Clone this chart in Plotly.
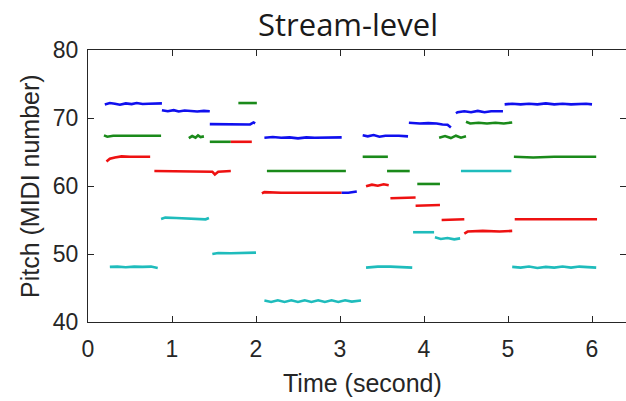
import plotly.graph_objects as go

# ---------------- data (time in s, pitch in MIDI number) ----------------
blue_t = [
    [0.20, 0.26, 0.32, 0.38, 0.45, 0.52, 0.58, 0.65, 0.72, 0.80, 0.88],
    [0.88, 0.95, 1.02, 1.08, 1.15, 1.22, 1.30, 1.38, 1.45],
    [1.45, 1.55, 1.65, 1.75, 1.85, 1.93, 1.97, 1.99],
    [2.10, 2.20, 2.30, 2.40, 2.50, 2.60, 2.70, 2.80, 2.90, 3.02],
    [3.02, 3.10, 3.20],
    [3.27, 3.33, 3.40, 3.47, 3.54, 3.62, 3.70, 3.81],
    [3.82, 3.95, 4.05, 4.15, 4.22, 4.28, 4.32],
    [4.38, 4.40, 4.48, 4.56, 4.64, 4.72, 4.80, 4.88, 4.94],
    [4.96, 5.05, 5.15, 5.25, 5.35, 5.45, 5.55, 5.65, 5.75, 5.85, 5.93, 6.00],
]
blue_p = [
    [72.0, 72.2, 72.1, 71.95, 72.15, 72.05, 72.2, 72.05, 72.1, 72.1, 72.15],
    [71.15, 71.0, 71.15, 70.95, 71.1, 71.0, 70.95, 71.05, 71.0],
    [69.1, 69.1, 69.05, 69.1, 69.1, 69.05, 69.35, 69.2],
    [67.1, 67.2, 67.1, 67.15, 67.0, 67.15, 67.1, 67.15, 67.1, 67.15],
    [59.0, 59.0, 59.2],
    [67.45, 67.3, 67.5, 67.25, 67.4, 67.45, 67.4, 67.3],
    [69.3, 69.2, 69.25, 69.2, 69.05, 69.0, 68.6],
    [70.7, 70.85, 71.0, 70.85, 71.05, 70.85, 71.0, 71.0, 71.0],
    [72.0, 72.1, 72.0, 72.1, 72.0, 72.15, 72.0, 72.1, 72.0, 72.1, 72.1, 72.0],
]

green_t = [
    [0.19, 0.23, 0.30, 0.45, 0.60, 0.75, 0.87],
    [1.20, 1.24, 1.28, 1.31, 1.34, 1.38],
    [1.45, 1.55, 1.70],
    [1.79, 1.90, 2.01],
    [2.13, 2.30, 2.50, 2.70, 2.90, 3.07],
    [3.27, 3.40, 3.57],
    [3.56, 3.70, 3.83],
    [3.92, 4.05, 4.19],
    [4.18, 4.25, 4.32, 4.38, 4.44, 4.50],
    [4.50, 4.55, 4.65, 4.75, 4.85, 4.95, 5.05],
    [5.07, 5.30, 5.55, 5.80, 6.05],
]
green_p = [
    [67.45, 67.25, 67.4, 67.4, 67.4, 67.4, 67.4],
    [67.05, 67.35, 67.1, 67.45, 67.2, 67.3],
    [66.5, 66.5, 66.5],
    [72.2, 72.2, 72.2],
    [62.2, 62.2, 62.1, 62.2, 62.2, 62.2],
    [64.3, 64.3, 64.3],
    [62.2, 62.2, 62.2],
    [60.3, 60.3, 60.3],
    [67.1, 67.35, 67.05, 67.4, 67.1, 67.3],
    [69.45, 69.2, 69.3, 69.2, 69.3, 69.2, 69.35],
    [64.3, 64.2, 64.3, 64.3, 64.3],
]

red_t = [
    [0.22, 0.26, 0.32, 0.40, 0.50, 0.60, 0.68, 0.74],
    [0.79, 0.95, 1.15, 1.35, 1.48, 1.51, 1.55, 1.70],
    [1.70, 1.82, 1.95],
    [2.07, 2.10, 2.30, 2.50, 2.70, 2.90, 3.02],
    [3.31, 3.38, 3.45, 3.52, 3.58],
    [3.60, 3.75, 3.90],
    [3.90, 4.05, 4.19],
    [4.21, 4.35, 4.48],
    [4.48, 4.52, 4.70, 4.90, 5.05],
    [5.08, 5.40, 5.70, 6.06],
]
red_p = [
    [63.6, 64.0, 64.2, 64.35, 64.3, 64.35, 64.3, 64.3],
    [62.2, 62.2, 62.2, 62.2, 62.1, 61.7, 62.1, 62.2],
    [66.5, 66.5, 66.5],
    [58.9, 59.1, 59.0, 59.05, 59.0, 59.0, 59.0],
    [59.95, 60.2, 60.05, 60.25, 60.1],
    [58.2, 58.2, 58.3],
    [57.1, 57.1, 57.2],
    [55.0, 55.0, 55.1],
    [53.0, 53.3, 53.4, 53.3, 53.4],
    [55.1, 55.1, 55.1, 55.1],
]

cyan_t = [
    [0.26, 0.35, 0.45, 0.55, 0.65, 0.75, 0.83],
    [0.87, 0.92, 1.05, 1.20, 1.35, 1.40, 1.44],
    [1.48, 1.55, 1.70, 1.85, 2.00],
    [2.10, 2.18, 2.26, 2.34, 2.42, 2.50, 2.58, 2.66, 2.74, 2.82, 2.90, 2.98, 3.06, 3.14, 3.25],
    [3.31, 3.45, 3.60, 3.75, 3.86],
    [3.87, 4.00, 4.12],
    [4.13, 4.20, 4.28, 4.36, 4.43],
    [4.44, 4.60, 4.80, 5.04],
    [5.05, 5.15, 5.25, 5.35, 5.45, 5.55, 5.65, 5.75, 5.85, 5.95, 6.05],
]
cyan_p = [
    [48.1, 48.15, 48.05, 48.15, 48.1, 48.15, 47.95],
    [55.15, 55.35, 55.3, 55.2, 55.2, 55.1, 55.3],
    [50.0, 50.15, 50.1, 50.15, 50.2],
    [43.15, 42.95, 43.2, 42.95, 43.2, 42.95, 43.2, 42.95, 43.2, 42.95, 43.2, 42.95, 43.2, 43.0, 43.15],
    [48.0, 48.15, 48.15, 48.1, 48.0],
    [53.2, 53.2, 53.2],
    [52.45, 52.2, 52.35, 52.15, 52.3],
    [62.2, 62.2, 62.1, 62.2],
    [48.1, 48.0, 48.15, 47.95, 48.1, 48.0, 48.15, 48.0, 48.15, 48.1, 48.0],
]

x_ticks = [0, 1, 2, 3, 4, 5, 6]
y_ticks = [40, 50, 60, 70, 80]
title_text = "Stream-level"
x_title = "Time (second)"
y_title = "Pitch (MIDI number)"

# ---------------- figure ----------------
def join(ts, ps):
    xs, ys = [], []
    for t, p in zip(ts, ps):
        xs += t + [None]
        ys += p + [None]
    return xs, ys

series = [
    (green_t, green_p, "#1a8a1a"),
    (red_t, red_p, "#ee1111"),
    (cyan_t, cyan_p, "#1fbcbc"),
    (blue_t, blue_p, "#1010ee"),
]

fig = go.Figure()
for ts, ps, col in series:
    xs, ys = join(ts, ps)
    fig.add_trace(go.Scatter(x=xs, y=ys, mode="lines",
                             line=dict(color=col, width=2.6),
                             connectgaps=False, hoverinfo="skip",
                             showlegend=False))

axis_common = dict(
    showline=True, linecolor="#262626", linewidth=1, mirror="ticks",
    ticks="inside", ticklen=6, tickcolor="#262626", tickwidth=1,
    showgrid=False, zeroline=False,
    tickfont=dict(family="Liberation Sans, Arial", size=23, color="#262626"),
)

W, H = 626, 401
L, R, T, B = 88, 0, 50, 79
pw, ph = W - L - R, H - T - B

fig.update_layout(
    width=W, height=H,
    margin=dict(l=L, r=R, t=T, b=B),
    paper_bgcolor="white", plot_bgcolor="white",
    title=dict(text=title_text, x=348 / W, xref="container", xanchor="center",
               y=1 - 25 / H, yref="container", yanchor="middle",
               font=dict(family="Open Sans", size=31, color="#1a1a1a")),
    xaxis=dict(range=[0, pw / 84.0], tickvals=x_ticks, ticklabelstandoff=6,
               **axis_common),
    yaxis=dict(range=[40, 80], tickvals=y_ticks, ticklabelstandoff=4,
               **axis_common),
    annotations=[
        dict(text=x_title, xref="paper", yref="paper",
             x=(362 - L) / pw, y=(H - B - 383) / ph,
             xanchor="center", yanchor="middle", showarrow=False,
             font=dict(family="Liberation Sans, Arial", size=25, color="#262626")),
        dict(text=y_title, xref="paper", yref="paper",
             x=(30 - L) / pw, y=(H - B - 186) / ph, textangle=-90,
             xanchor="center", yanchor="middle", showarrow=False,
             font=dict(family="Liberation Sans, Arial", size=25, color="#262626")),
    ],
)

fig.write_html("out.html")
